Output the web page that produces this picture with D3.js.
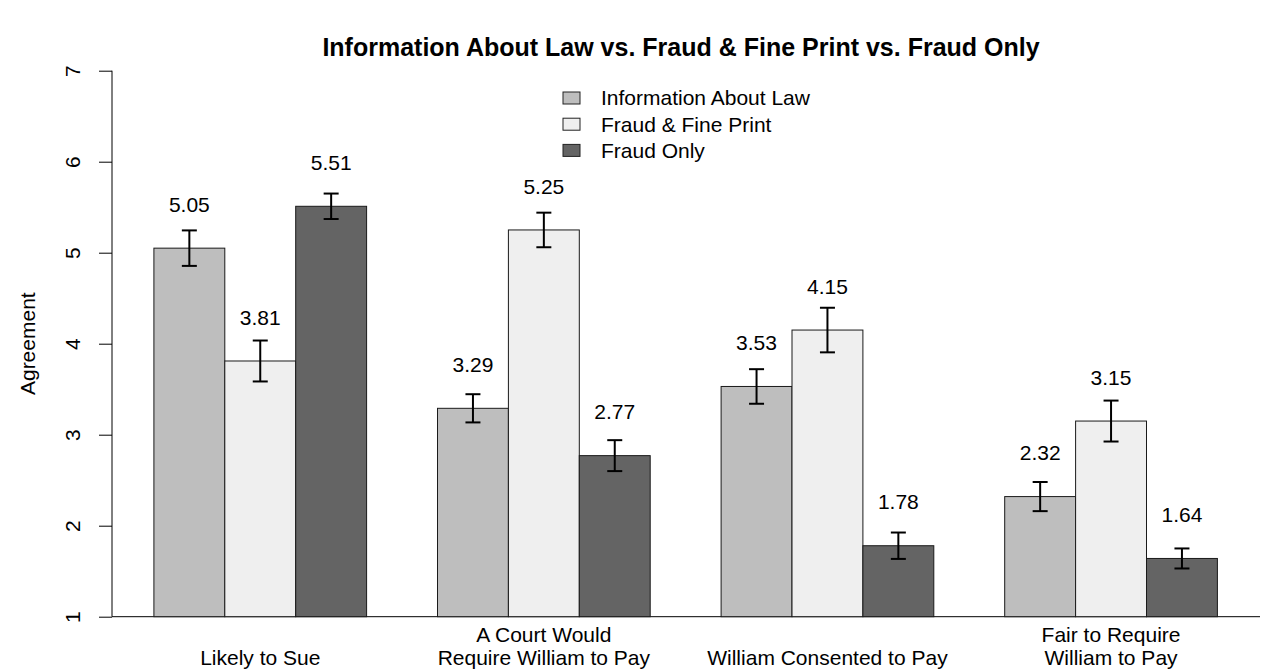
<!DOCTYPE html>
<html>
<head>
<meta charset="utf-8">
<script src="https://cdn.jsdelivr.net/npm/d3@7"></script>
<style>
  body { margin: 0; background: #fff; }
  text { font-family: "Liberation Sans", Arial, Helvetica, sans-serif; fill: #000; }
</style>
</head>
<body>
<div id="chart"></div>
<script>
const categories = [
    ["Likely to Sue"],
    ["A Court Would", "Require William to Pay"],
    ["William Consented to Pay"],
    ["Fair to Require", "William to Pay"]
]
const seriesNames = ["Information About Law", "Fraud & Fine Print", "Fraud Only"]
const seriesColors = ["#bebebe", "#efefef", "#646464"]
// means per category, in series order
const means = [
    [5.05, 3.81, 5.51],
    [3.29, 5.25, 2.77],
    [3.53, 4.15, 1.78],
    [2.32, 3.15, 1.64]
]
// standard errors read from the whiskers
const errors = [
    [0.195, 0.225, 0.14],
    [0.155, 0.19, 0.17],
    [0.19, 0.245, 0.145],
    [0.16, 0.225, 0.11]
]
const yTicks = [1, 2, 3, 4, 5, 6, 7]

const width = 1262, height = 669
const fontSize = 21

const svg = d3.select('#chart')
    .append('svg')
    .attr('width', width)
    .attr('height', height)

// bar units: 1 empty slot before each group, 3 bars per group
const x = d3.scaleLinear().domain([0, 16]).range([83, 83 + 16 * 70.9])
const y = d3.scaleLinear().domain([1, 7]).range([616.7, 70.7])
const barW = x(1) - x(0)

let bars = []
means.forEach((row, g) => {
    row.forEach((v, s) => {
        bars.push({ g: g, s: s, value: v, se: errors[g][s], u: 1 + g * 4 + s })
    })
})

// baseline
svg.append('line')
    .attr('x1', 112).attr('x2', 1260)
    .attr('y1', y(1)).attr('y2', y(1))
    .style('stroke', '#000').style('stroke-width', 1)

svg.selectAll('.bar')
    .data(bars)
    .enter()
    .append('rect')
    .attr('class', 'bar')
    .attr('x', d => x(d.u))
    .attr('y', d => y(d.value))
    .attr('width', barW)
    .attr('height', d => y(1) - y(d.value))
    .style('fill', d => seriesColors[d.s])
    .style('stroke', '#1a1a1a')
    .style('stroke-width', 1)

// error bars
let eb = svg.selectAll('.err')
    .data(bars)
    .enter()
    .append('g')
    .attr('class', 'err')
    .style('stroke', '#000')
    .style('stroke-width', 2)
eb.append('line')
    .attr('x1', d => x(d.u + 0.5)).attr('x2', d => x(d.u + 0.5))
    .attr('y1', d => y(d.value + d.se)).attr('y2', d => y(d.value - d.se))
eb.append('line')
    .attr('x1', d => x(d.u + 0.5) - 7.5).attr('x2', d => x(d.u + 0.5) + 7.5)
    .attr('y1', d => y(d.value + d.se)).attr('y2', d => y(d.value + d.se))
eb.append('line')
    .attr('x1', d => x(d.u + 0.5) - 7.5).attr('x2', d => x(d.u + 0.5) + 7.5)
    .attr('y1', d => y(d.value - d.se)).attr('y2', d => y(d.value - d.se))

// value labels
svg.selectAll('.val')
    .data(bars)
    .enter()
    .append('text')
    .attr('class', 'val')
    .attr('x', d => x(d.u + 0.5))
    .attr('y', d => y(d.value + 0.48))
    .attr('dy', '0.35em')
    .attr('text-anchor', 'middle')
    .style('font-size', fontSize + 'px')
    .text(d => d.value.toFixed(2))

// y axis
const yAxis = d3.axisLeft(y).tickValues(yTicks).tickSize(13).tickPadding(0).tickFormat(d3.format('d'))
const ax = svg.append('g')
    .attr('transform', 'translate(112,0)')
    .call(yAxis)
ax.select('.domain').attr('d', `M0,${y(1)}V${y(7)}`).style('stroke', '#000').style('stroke-width', 1)
ax.selectAll('.tick line').style('stroke', '#000')
ax.selectAll('.tick text')
    .attr('x', 0).attr('dy', 0)
    .attr('transform', 'translate(-32,0) rotate(-90)')
    .attr('text-anchor', 'middle')
    .style('font-size', fontSize + 'px')
    .style('font-family', '"Liberation Sans", Arial, sans-serif')
    .style('fill', '#000')

svg.append('text')
    .attr('transform', `translate(35,${(y(1) + y(7)) / 2}) rotate(-90)`)
    .attr('text-anchor', 'middle')
    .style('font-size', fontSize + 'px')
    .text('Agreement')

// category labels, bottom-aligned
categories.forEach((lines, g) => {
    let cx = x(2.5 + g * 4)
    lines.forEach((t, i) => {
        svg.append('text')
            .attr('x', cx)
            .attr('y', 665 - (lines.length - 1 - i) * 23)
            .attr('text-anchor', 'middle')
            .style('font-size', fontSize + 'px')
            .text(t)
    })
})

// title
svg.append('text')
    .attr('x', 681)
    .attr('y', 56)
    .attr('text-anchor', 'middle')
    .style('font-size', '25px')
    .style('font-weight', 'bold')
    .text('Information About Law vs. Fraud & Fine Print vs. Fraud Only')

// legend
let lg = svg.selectAll('.legend')
    .data(seriesNames)
    .enter()
    .append('g')
    .attr('class', 'legend')
    .attr('transform', (d, i) => `translate(563,${98 + i * 26.2})`)
lg.append('rect')
    .attr('x', 0).attr('y', -6)
    .attr('width', 17).attr('height', 12)
    .style('fill', (d, i) => seriesColors[i])
    .style('stroke', '#222')
lg.append('text')
    .attr('x', 38)
    .attr('dy', '0.35em')
    .style('font-size', fontSize + 'px')
    .text(d => d)
</script>
</body>
</html>
